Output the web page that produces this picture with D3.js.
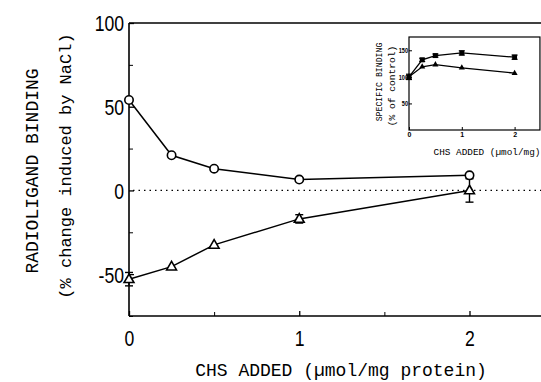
<!DOCTYPE html>
<html><head><meta charset="utf-8">
<script src="https://cdn.jsdelivr.net/npm/d3@7"></script>
<style>
html,body{margin:0;padding:0;background:#fff;}
svg{display:block;}
.mono{font-family:"Liberation Mono","Courier New",monospace;}
.num{font-family:"Liberation Sans",Arial,sans-serif;}
</style></head><body>
<svg id="c" width="541" height="382"></svg>
<script>
// Main chart data
const chsX = [0, 0.25, 0.5, 1, 2];
const circleVals = [54, 21, 13, 6.5, 9];
const triangleVals = [-53, -45.5, -32.5, -17, 0];
const triangleErr = [4, 0, 0, 2.5, 7];
const mainYTicks = [-50, 0, 50, 100];
const mainYMinor = [-75, -25, 25, 75];
const mainXTicks = [0, 1, 2];
const mainXMinor = [0.5, 1.5];
// Inset data
const insetX = [0, 0.25, 0.5, 1, 2];
const insetSquares = [100, 132, 140, 145, 137];
const insetSquaresErr = [5, 3, 3, 4, 4];
const insetTriangles = [100, 119, 123, 117, 107];
const insetYTicks = [50, 100, 150];
const insetXTicks = [0, 1, 2];

const svg = d3.select("#c");
const x = d3.scaleLinear().domain([0, 2.42]).range([129, 541]);
const y = d3.scaleLinear().domain([-75, 100]).range([316, 23]);

function narrow(sel, k){
  sel.each(function(){
    const t = d3.select(this);
    const tx = +t.attr("x") || 0, ty = +t.attr("y") || 0;
    t.attr("x",0).attr("y",0).attr("transform",`translate(${tx},${ty}) scale(${k},1)`);
  });
}

const g = svg.append("g");
g.append("line").attr("x1", x(0)).attr("x2", x(2.42)).attr("y1", y(100)).attr("y2", y(100)).attr("stroke","#000").attr("stroke-width",1.6);
g.append("line").attr("x1", x(0)).attr("x2", x(2.42)).attr("y1", y(-75)).attr("y2", y(-75)).attr("stroke","#000").attr("stroke-width",1.6);
g.append("line").attr("x1", x(0)).attr("x2", x(0)).attr("y1", y(100)).attr("y2", y(-75)).attr("stroke","#000").attr("stroke-width",1.6);

// y axis
const yAxis = d3.axisLeft(y).tickValues(mainYTicks).tickSizeInner(-5).tickSizeOuter(0).tickPadding(5);
const ya = g.append("g").attr("transform",`translate(${x(0)},0)`).call(yAxis);
ya.select(".domain").remove();
ya.selectAll("line").attr("stroke-width",1.3);
ya.selectAll("text").attr("class","num").attr("font-size",22).attr("fill","#000").attr("dy","0.36em").text(d=> d<0 ? "-"+Math.abs(d) : d);
narrow(ya.selectAll("text"), 0.8);
const ym = g.append("g").attr("transform",`translate(${x(0)},0)`)
  .call(d3.axisLeft(y).tickValues(mainYMinor).tickSizeInner(-4).tickSizeOuter(0).tickFormat(""));
ym.select(".domain").remove();

// x axis
const xAxis = d3.axisBottom(x).tickValues(mainXTicks).tickSizeInner(-5).tickSizeOuter(0).tickPadding(14).tickFormat(d3.format("d"));
const xa = g.append("g").attr("transform",`translate(0,${y(-75)})`).call(xAxis);
xa.select(".domain").remove();
xa.selectAll("line").attr("stroke-width",1.3);
xa.selectAll("text").attr("class","num").attr("font-size",22).attr("fill","#000");
narrow(xa.selectAll("text"), 0.8);
const xm = g.append("g").attr("transform",`translate(0,${y(-75)})`)
  .call(d3.axisBottom(x).tickValues(mainXMinor).tickSizeInner(-4).tickSizeOuter(0).tickFormat(""));
xm.select(".domain").remove();

// zero dotted line
g.append("line").attr("x1", x(0)+4).attr("x2", x(2.42)).attr("y1", y(0)).attr("y2", y(0))
  .attr("stroke","#000").attr("stroke-width",1.2).attr("stroke-dasharray","1.5,4");

// lines
const line = d3.line().x((d,i)=>x(chsX[i])).y(d=>y(d));
g.append("path").attr("d", line(circleVals)).attr("fill","none").attr("stroke","#000").attr("stroke-width",1.5);
g.append("path").attr("d", line(triangleVals)).attr("fill","none").attr("stroke","#000").attr("stroke-width",1.5);

// error bars for triangles
chsX.forEach((cx,i)=>{
  const e = triangleErr[i]; if(!e) return;
  const px = x(cx);
  g.append("line").attr("x1",px).attr("x2",px).attr("y1",y(triangleVals[i]+e)).attr("y2",y(triangleVals[i]-e)).attr("stroke","#000").attr("stroke-width",1.4);
  [e,-e].forEach(s=>g.append("line").attr("x1",px-4).attr("x2",px+4).attr("y1",y(triangleVals[i]+s)).attr("y2",y(triangleVals[i]+s)).attr("stroke","#000").attr("stroke-width",1.4));
});

g.selectAll(".circ").data(circleVals).enter().append("circle")
  .attr("cx",(d,i)=>x(chsX[i])).attr("cy",d=>y(d)).attr("r",4.2)
  .attr("fill","#fff").attr("stroke","#000").attr("stroke-width",1.6);
const tri = d3.symbol().type(d3.symbolTriangle).size(42);
g.selectAll(".tri").data(triangleVals).enter().append("path")
  .attr("d", tri).attr("transform",(d,i)=>`translate(${x(chsX[i])},${y(d)+0.5})`)
  .attr("fill","#fff").attr("stroke","#000").attr("stroke-width",1.6);

// axis titles
svg.append("text").attr("class","mono").attr("font-size",18).attr("text-anchor","middle")
  .attr("transform","translate(38,171) rotate(-90)").text("RADIOLIGAND BINDING");
svg.append("text").attr("class","mono").attr("font-size",17).attr("text-anchor","middle")
  .attr("transform","translate(71,166) rotate(-90)").text("(% change induced by NaCl)");
svg.append("text").attr("class","mono").attr("font-size",18).attr("text-anchor","middle")
  .attr("x",341).attr("y",376).text("CHS ADDED (\u00b5mol/mg protein)");

// ===== Inset =====
const xi = d3.scaleLinear().domain([0, 2.5]).range([409, 541]);
const yi = d3.scaleLinear().domain([0, 175]).range([130, 37]);
const ig = svg.append("g");
ig.append("rect").attr("x", xi(0)).attr("y", yi(175)).attr("width", xi(2.48)-xi(0)).attr("height", yi(0)-yi(175))
  .attr("fill","none").attr("stroke","#000").attr("stroke-width",1.2);
const iy = ig.append("g").attr("transform",`translate(${xi(0)},0)`)
  .call(d3.axisLeft(yi).tickValues(insetYTicks).tickSizeInner(-3).tickSizeOuter(0).tickPadding(1));
iy.select(".domain").remove();
iy.selectAll("text").attr("class","num").attr("font-size",7).attr("font-weight","bold").attr("fill","#000");
narrow(iy.selectAll("text"), 0.8);
const ix = ig.append("g").attr("transform",`translate(0,${yi(0)})`)
  .call(d3.axisBottom(xi).tickValues(insetXTicks).tickSizeInner(-3).tickSizeOuter(0).tickPadding(2).tickFormat(d3.format("d")));
ix.select(".domain").remove();
ix.selectAll("text").attr("class","num").attr("font-size",7).attr("font-weight","bold").attr("fill","#000");

const iline = d3.line().x((d,i)=>xi(insetX[i])).y(d=>yi(d));
ig.append("path").attr("d", iline(insetSquares)).attr("fill","none").attr("stroke","#000").attr("stroke-width",1.3);
ig.append("path").attr("d", iline(insetTriangles)).attr("fill","none").attr("stroke","#000").attr("stroke-width",1.3);
insetX.forEach((cx,i)=>{
  const e = insetSquaresErr[i];
  const px = xi(cx);
  ig.append("line").attr("x1",px).attr("x2",px).attr("y1",yi(insetSquares[i]+e)).attr("y2",yi(insetSquares[i]-e)).attr("stroke","#000").attr("stroke-width",1.2);
  [e,-e].forEach(s=>ig.append("line").attr("x1",px-3).attr("x2",px+3).attr("y1",yi(insetSquares[i]+s)).attr("y2",yi(insetSquares[i]+s)).attr("stroke","#000").attr("stroke-width",1.2));
});
ig.selectAll(".sq").data(insetSquares).enter().append("path")
  .attr("d", d3.symbol().type(d3.symbolSquare).size(24))
  .attr("transform",(d,i)=>`translate(${xi(insetX[i])},${yi(d)})`).attr("fill","#000");
ig.selectAll(".itri").data(insetTriangles).enter().append("path")
  .attr("d", d3.symbol().type(d3.symbolTriangle).size(16))
  .attr("transform",(d,i)=>`translate(${xi(insetX[i])},${yi(d)})`).attr("fill","#000");

svg.append("text").attr("class","mono").attr("font-size",8.2).attr("text-anchor","middle")
  .attr("transform","translate(382,82) rotate(-90)").text("SPECIFIC BINDING");
svg.append("text").attr("class","mono").attr("font-size",9.6).attr("text-anchor","middle")
  .attr("transform","translate(395,86) rotate(-90)").text("(% of control)");
svg.append("text").attr("class","mono").attr("font-size",9.4).attr("text-anchor","middle")
  .attr("x",487).attr("y",155).text("CHS ADDED (\u00b5mol/mg)");
</script>
</body></html>
